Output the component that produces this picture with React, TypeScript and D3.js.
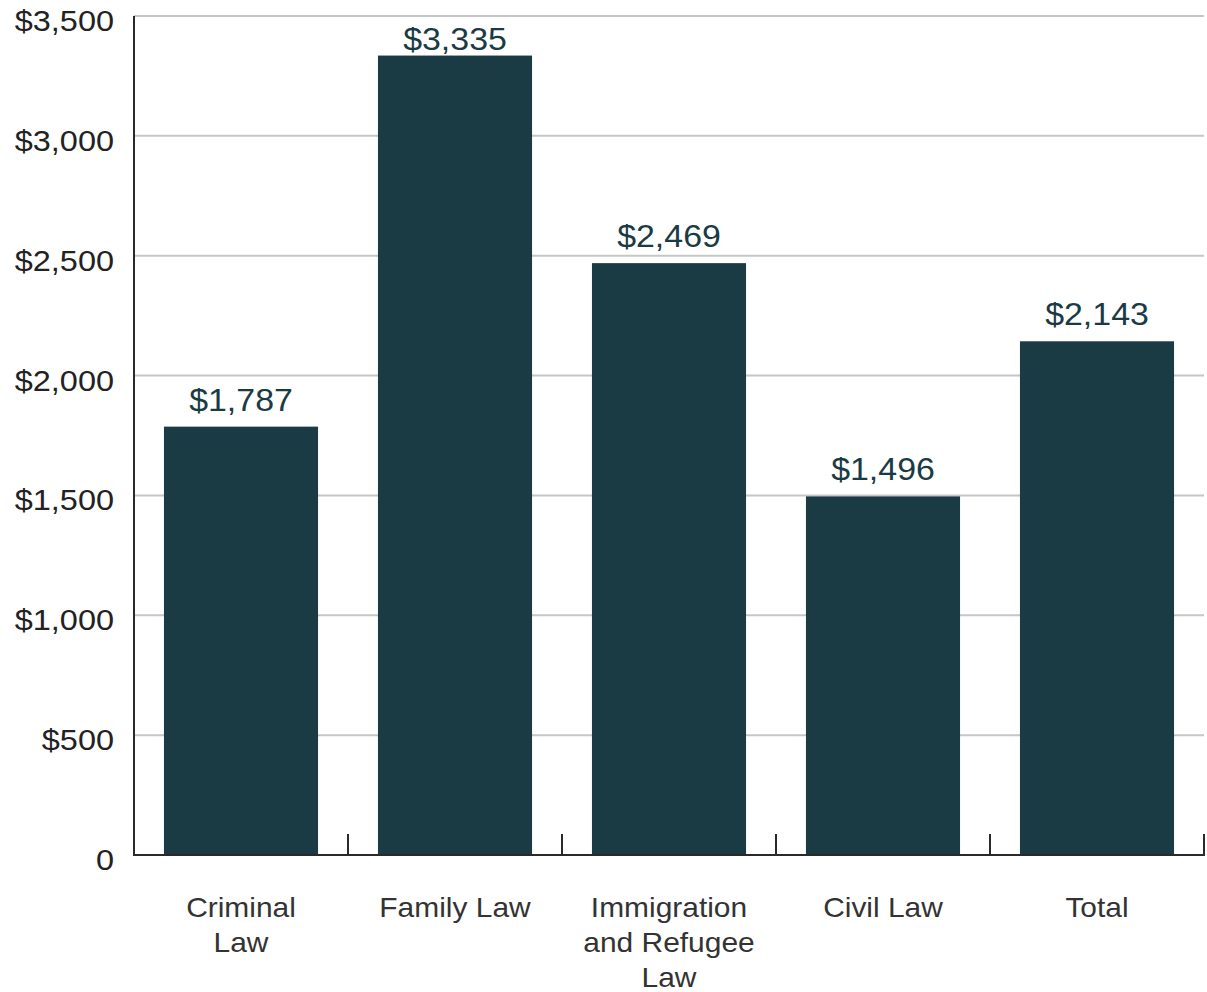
import React from "react";
import * as d3 from "d3";

const categories: string[][] = [
  ["Criminal", "Law"],
  ["Family Law"],
  ["Immigration", "and Refugee", "Law"],
  ["Civil Law"],
  ["Total"],
];
const values: number[] = [1787, 3335, 2469, 1496, 2143];
const yTicks: number[] = [0, 500, 1000, 1500, 2000, 2500, 3000, 3500];

const W = 1207;
const H = 992;
const left = 134;
const right = 1204;
const top = 16;
const bottom = 855;
const barColor = "#1a3a44";

export default function App() {
  const x = d3
    .scaleBand<number>()
    .domain(values.map((_, i) => i))
    .range([left, right])
    .paddingInner(0.28)
    .paddingOuter(0.14);
  const y = d3.scaleLinear().domain([0, 3500]).range([bottom, top]);
  const fmt = (v: number) => (v === 0 ? "0" : "$" + d3.format(",")(v));
  const step = x.step();
  const boundaries = d3.range(values.length + 1).map((i) => left + i * step);

  return (
    <svg
      width={W}
      height={H}
      style={{ position: "absolute", left: 0, top: 0, background: "#fff" }}
      fontFamily="'Liberation Sans', Arial, sans-serif"
    >
      {yTicks.filter((t) => t > 0).map((t) => (
        <line key={t} x1={left} x2={right} y1={y(t)} y2={y(t)} stroke="#c6c6c6" strokeWidth={2} />
      ))}
      {yTicks.map((t) => (
        <text
          key={t}
          transform={`translate(114,${y(t) + 15}) scale(1.12,1)`}
          textAnchor="end"
          fontSize={29}
          fill="#222"
        >
          {fmt(t)}
        </text>
      ))}
      {values.map((v, i) => {
        const cx = (x(i) as number) + x.bandwidth() / 2;
        const ly = Math.max(y(v) - 16, 50);
        return (
          <g key={i}>
            <rect x={x(i)} y={y(v)} width={x.bandwidth()} height={bottom - y(v)} fill={barColor} />
            <text
              transform={`translate(${cx},${ly}) scale(1.06,1)`}
              textAnchor="middle"
              fontSize={32}
              fill={barColor}
            >
              {fmt(v)}
            </text>
            <g transform={`translate(${cx},0) scale(1.05,1)`}>
              <text textAnchor="middle" fontSize={28.5} fill="#333">
                {categories[i].map((line, j) => (
                  <tspan key={j} x={0} y={917 + j * 35}>
                    {line}
                  </tspan>
                ))}
              </text>
            </g>
          </g>
        );
      })}
      <line x1={left} x2={left} y1={top} y2={bottom} stroke="#2a2a2a" strokeWidth={2} />
      <line x1={left - 1} x2={right + 1} y1={bottom} y2={bottom} stroke="#2a2a2a" strokeWidth={2} />
      {boundaries.map((b, i) => (
        <line key={i} x1={b} x2={b} y1={bottom} y2={834} stroke="#2a2a2a" strokeWidth={2} />
      ))}
    </svg>
  );
}
